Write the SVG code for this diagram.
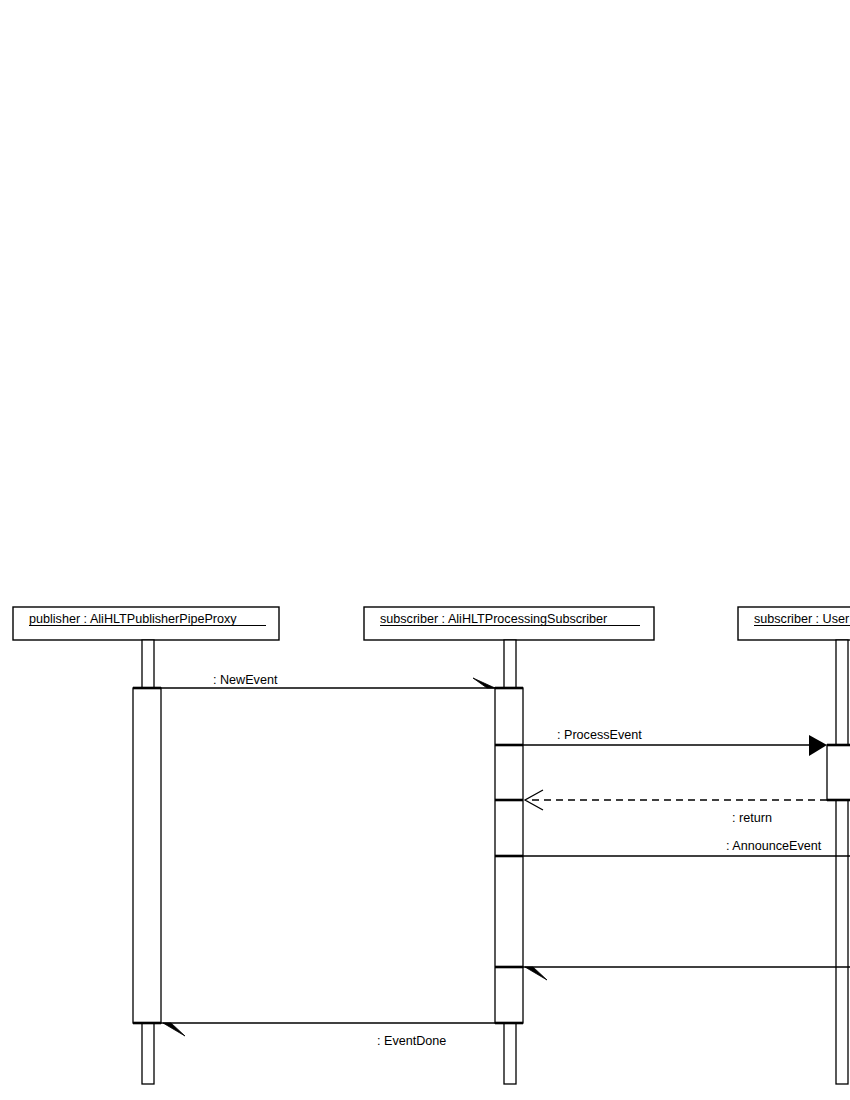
<svg xmlns="http://www.w3.org/2000/svg" width="850" height="1100" viewBox="0 0 850 1100">
<style>
.box{fill:#fff;stroke:#000;stroke-width:1.4}
.life{fill:#fff;stroke:#000;stroke-width:1.3}
.thick{stroke:#000;stroke-width:2.6}
.msg{stroke:#000;stroke-width:1.3;fill:none}
.dash{stroke:#000;stroke-width:1.3;fill:none;stroke-dasharray:7,5}
.t{font-family:"Liberation Sans",Arial,sans-serif;font-size:12.6px;fill:#000}
.ul{stroke:#000;stroke-width:1}
</style>
<rect width="850" height="1100" fill="#fff"/>
<g id="publisher">
<rect class="box" x="13" y="607" width="266" height="33"/>
<text class="t" x="29" y="623">publisher : AliHLTPublisherPipeProxy</text>
<line class="ul" x1="29" y1="625.5" x2="266" y2="625.5"/>
<rect class="life" x="142" y="640" width="12" height="48"/>
<rect class="life" x="133" y="688" width="28" height="335"/>
<rect class="life" x="142" y="1023" width="12" height="61"/>
<line class="thick" x1="133" y1="688" x2="161" y2="688"/>
<line class="thick" x1="133" y1="1023" x2="161" y2="1023"/>
</g>
<g id="procsub">
<rect class="box" x="364" y="607" width="290" height="33"/>
<text class="t" x="380" y="623">subscriber : AliHLTProcessingSubscriber</text>
<line class="ul" x1="380" y1="625.5" x2="640" y2="625.5"/>
<rect class="life" x="504" y="640" width="12" height="48"/>
<rect class="life" x="495" y="688" width="28" height="335"/>
<rect class="life" x="504" y="1023" width="12" height="61"/>
<line class="thick" x1="495" y1="688" x2="523" y2="688"/>
<line class="thick" x1="495" y1="745" x2="523" y2="745"/>
<line class="thick" x1="495" y1="800" x2="523" y2="800"/>
<line class="thick" x1="495" y1="856" x2="523" y2="856"/>
<line class="thick" x1="495" y1="967" x2="523" y2="967"/>
<line class="thick" x1="495" y1="1023" x2="523" y2="1023"/>
</g>
<g id="usersub">
<rect class="box" x="738" y="607" width="130" height="33"/>
<text class="t" x="754" y="623">subscriber : User</text>
<line class="ul" x1="754" y1="625.5" x2="850" y2="625.5"/>
<rect class="life" x="836" y="640" width="12" height="444"/>
<rect class="life" x="827" y="745" width="40" height="55"/>
<line class="thick" x1="827" y1="745" x2="850" y2="745"/>
<line class="thick" x1="827" y1="800" x2="850" y2="800"/>
</g>
<g id="connectors">
<line class="msg" x1="161" y1="688" x2="495" y2="688"/>
<polygon points="473,678 495,688 487,688" fill="#000" stroke="#000" stroke-width="0.8"/>
<text class="t" x="213" y="684">: NewEvent</text>
<line class="msg" x1="523" y1="745" x2="810" y2="745"/>
<polygon points="809,735 827,745 809,756" fill="#000"/>
<text class="t" x="557" y="739">: ProcessEvent</text>
<line class="dash" x1="827" y1="800" x2="527" y2="800"/>
<polyline class="msg" points="543,790 525,800 543,810"/>
<text class="t" x="732" y="822">: return</text>
<line class="msg" x1="523" y1="856" x2="850" y2="856"/>
<text class="t" x="726" y="850">: AnnounceEvent</text>
<line class="msg" x1="850" y1="967" x2="523" y2="967"/>
<polygon points="525,967 547,980 533,967" fill="#000" stroke="#000" stroke-width="0.8"/>
<line class="msg" x1="495" y1="1023" x2="161" y2="1023"/>
<polygon points="163,1023 185,1036 171,1023" fill="#000" stroke="#000" stroke-width="0.8"/>
<text class="t" x="377" y="1045">: EventDone</text>
</g>
</svg>
